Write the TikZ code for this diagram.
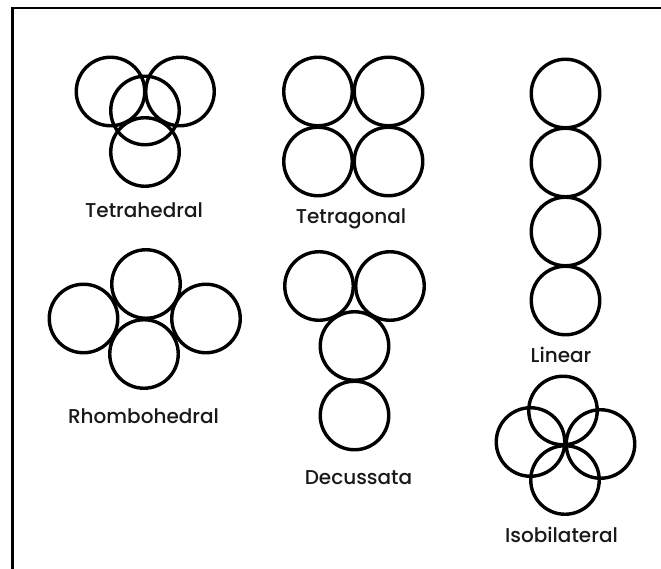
\documentclass[tikz,border=0pt]{standalone}
\usepackage{fontspec}
\setmainfont{Poppins Medium}
\begin{document}
\begin{tikzpicture}[x=1pt,y=-1pt,
  ring/.style={circle,draw=black,line width=3.4pt,minimum size=68.5pt,inner sep=0pt},
  lbl/.style={anchor=base,inner sep=0pt,font=\fontsize{20}{24}\selectfont,text=black!90}]
\useasboundingbox (0,0) rectangle (661,569);
\clip (0,0) rectangle (661,569);
\fill[white] (0,0) rectangle (661,569);
\draw[line width=2.8pt] (12.8,8) rectangle (680,590);
% Tetrahedral
\node[ring] (th1) at (110.5,91.5) {};
\node[ring] (th2) at (180,91.5) {};
\node[ring] (th3) at (145,110.5) {};
\node[ring] (th4) at (145,152) {};
\node[lbl] (lth) at (144,217.7) {Tetrahedral};
% Tetragonal
\node[ring] (tg1) at (318,91.5) {};
\node[ring] (tg2) at (388.5,91.5) {};
\node[ring] (tg3) at (318,161.5) {};
\node[ring] (tg4) at (388.5,161.5) {};
\node[lbl] (ltg) at (351,224) {Tetragonal};
% Linear
\node[ring] (ln1) at (565.5,93.5) {};
\node[ring] (ln2) at (565.5,162.5) {};
\node[ring] (ln3) at (565.5,231.5) {};
\node[ring] (ln4) at (565.5,300.5) {};
\node[lbl] (lln) at (561,362) {Linear};
% Rhombohedral
\node[ring] (rh1) at (146,284) {};
\node[ring] (rh2) at (83.5,318.5) {};
\node[ring] (rh3) at (206,318.5) {};
\node[ring] (rh4) at (144,354) {};
\node[lbl] (lrh) at (143.5,423.3) {Rhombohedral};
% Decussata
\node[ring] (dc1) at (319,286) {};
\node[ring] (dc2) at (390,286) {};
\node[ring] (dc3) at (354.5,346) {};
\node[ring] (dc4) at (354.5,415.5) {};
\node[lbl] (ldc) at (358.5,484) {Decussata};
% Isobilateral
\node[ring] (ib1) at (563,410.5) {};
\node[ring] (ib2) at (530.5,442) {};
\node[ring] (ib3) at (600.5,444) {};
\node[ring] (ib4) at (565,480) {};
\node[lbl] (lib) at (561.5,542.7) {Isobilateral};
\end{tikzpicture}
\end{document}
